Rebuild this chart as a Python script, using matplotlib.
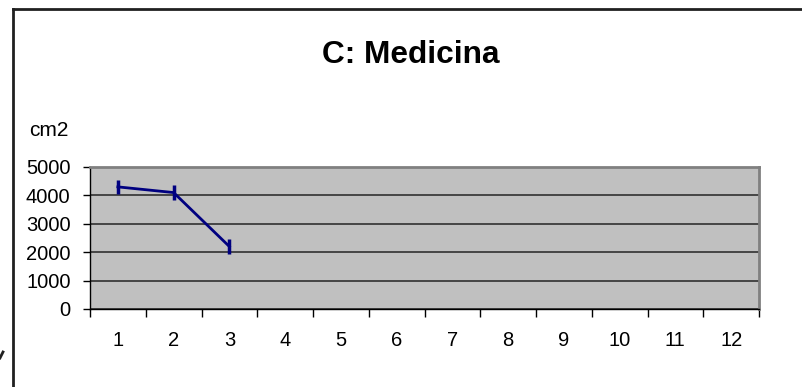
import matplotlib
matplotlib.use("Agg")
import matplotlib.pyplot as plt
from matplotlib.lines import Line2D
import numpy as np

plt.rcParams['font.family'] = ['Liberation Sans', 'DejaVu Sans']

# data
categories = [str(i) for i in range(1, 13)]
values = [4300, 4100, 2200]
errors = [250, 250, 250]
yticks = [0, 1000, 2000, 3000, 4000, 5000]

W, H = 802, 387
fig = plt.figure(figsize=(W / 100, H / 100), dpi=100)

# outer chart frame (only top and left visible)
fig.add_artist(Line2D([13 / W, 1.0], [1 - 9 / H, 1 - 9 / H], color='#202020', lw=2))
fig.add_artist(Line2D([13 / W, 13 / W], [1 - 9 / H, 0.0], color='#202020', lw=2))
fig.add_artist(Line2D([0 / W, 3 / W], [1 - 358 / H, 1 - 352 / H], color='#202020', lw=2))

ax = fig.add_axes([90 / W, 1 - 309 / H, (759 - 90) / W, (309 - 167) / H])
ax.set_facecolor('#C0C0C0')

x = np.arange(len(values)) + 0.5
ax.plot(x, values, color='#000080', lw=2, zorder=3)
ax.errorbar(x, values, yerr=errors, fmt='none', ecolor='#000080',
            elinewidth=2.5, capsize=0, zorder=3)

ax.set_xlim(0, len(categories))
ax.set_ylim(0, 5000)
ax.set_yticks(yticks)
ax.set_yticklabels([str(v) for v in yticks])
ax.set_xticks(np.arange(len(categories) + 1))
ax.set_xticklabels([])
ax.set_xticks(np.arange(len(categories)) + 0.5, minor=True)
ax.set_xticklabels(categories, minor=True)
ax.tick_params(axis='x', which='minor', length=0, pad=15.5, labelsize=14.5)
ax.tick_params(axis='x', which='major', length=6, width=1, color='black')
ax.tick_params(axis='y', length=5, width=1, pad=9, labelsize=14.5)
ax.yaxis.grid(True, color='#303030', lw=1.2)
ax.set_axisbelow(True)

for s in ['top', 'right']:
    ax.spines[s].set_color('#808080')
    ax.spines[s].set_linewidth(2)
for s in ['left', 'bottom']:
    ax.spines[s].set_color('black')
    ax.spines[s].set_linewidth(1)

fig.text(411 / W, 1 - 55 / H, 'C: Medicina', ha='center', va='center',
         fontsize=22.8, fontweight='bold')
fig.text(49 / W, 1 - 130 / H, 'cm2', ha='center', va='center', fontsize=15)

fig.savefig('out.png', dpi=100)
